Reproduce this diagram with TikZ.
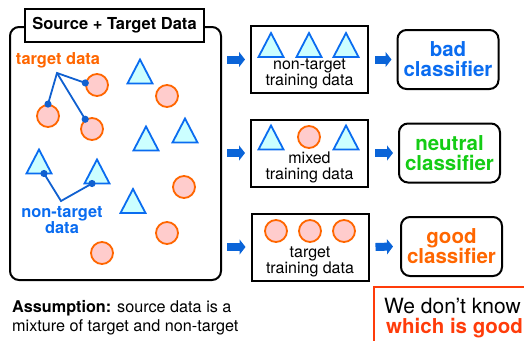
\documentclass[tikz,border=0pt]{standalone}
\usepackage{fontspec}
\setmainfont{TeX Gyre Heros}
\usetikzlibrary{arrows.meta,calc}
\definecolor{corange}{HTML}{FF6600}
\definecolor{cpink}{HTML}{FFCCCC}
\definecolor{ccyan}{HTML}{CCFFFF}
\definecolor{cblue}{HTML}{0A6CF0}
\definecolor{cdark}{HTML}{1060D0}
\definecolor{carrow}{HTML}{0A64D8}
\definecolor{cgreen}{HTML}{14CC14}
\definecolor{cred}{HTML}{FF3C0A}
\tikzset{
  trishape/.style={draw=cblue, fill=ccyan, line width=1.8pt},
  dotc/.style={circle, draw=corange, fill=cpink, line width=1.8pt, minimum size=22pt, inner sep=0pt},
  bigbox/.style={draw, line width=2pt, rounded corners=9pt, minimum width=211pt, minimum height=253pt, inner sep=0pt},
  titlebox/.style={draw, line width=2pt, fill=white, minimum width=179pt, minimum height=33pt, inner sep=0pt, font=\bfseries\fontsize{16.5pt}{18pt}\selectfont},
  trainbox/.style={draw, line width=2pt, minimum width=117pt, minimum height=67pt, inner sep=0pt},
  traintext/.style={align=center, inner sep=0pt, font=\fontsize{16pt}{16pt}\selectfont},
  clbox/.style={draw, line width=2pt, rounded corners=9pt, minimum width=101pt, minimum height=59pt, inner sep=0pt, align=center, font=\bfseries\fontsize{20.5pt}{20pt}\selectfont},
  blockarrow/.style={carrow, line width=8pt, -{Triangle[length=6pt,width=15pt]}},
  conn/.style={cdark, line width=1.8pt},
  labtext/.style={align=center, inner sep=0pt, font=\bfseries\fontsize{16.4pt}{16pt}\selectfont},
}
\newcommand\tri[3]{\coordinate (#1) at (#2,#3);
  \draw[trishape] ($(#1)+(-12.5,12)$) -- ($(#1)+(0,-12)$) -- ($(#1)+(12.5,12)$) -- cycle;}
\begin{document}
\begin{tikzpicture}[x=1pt,y=-1pt]
\useasboundingbox (0,0) rectangle (524,340);
\clip (0,0) rectangle (524,340);
% source box
\node[bigbox] (src) at (115.5,153.5) {};
\node[titlebox] (title) at (114.5,25.5) {Source + Target Data};
% shapes in source
\node[dotc] (c1) at (97,85) {};
\node[dotc] (c2) at (48,116) {};
\node[dotc] (c3) at (92,129) {};
\node[dotc] (c4) at (167,96) {};
\node[dotc] (c5) at (184,187) {};
\node[dotc] (c6) at (167,233) {};
\node[dotc] (c7) at (102,253) {};
\tri{m1}{140}{71.5}
\tri{m2}{185}{130.5}
\tri{m3}{146}{138.5}
\tri{nA}{39}{161.5}
\tri{nB}{97}{171.5}
\tri{m4}{133}{201}
% labels and connectors
\node[labtext, corange] (tgl) at (58,60) {target data};
\coordinate (tgj) at (57,73);
\draw[conn] (c1.170) -- (tgj) -- (c2.90);
\draw[conn] (tgj) -- (c3.125);
\fill[cdark] (c1.170) circle (3.6pt) (c2.90) circle (3.6pt) (c3.125) circle (3.6pt);
\node[labtext, cblue] (ntl) at (62,220) {non-target\\data};
\coordinate (ntj) at (61,201);
\coordinate (dA) at ($(nA)+(5,12)$);
\coordinate (dB) at ($(nB)+(-5,12)$);
\draw[conn] (dA) -- (ntj) -- (dB);
\fill[cdark] (dA) circle (3.6pt) (dB) circle (3.6pt);
% training boxes
\node[trainbox] (t1) at (309.5,59.5) {};
\node[trainbox] (t2) at (309.5,153) {};
\node[trainbox] (t3) at (310,247) {};
\tri{a1}{271}{45}
\tri{a2}{309}{45}
\tri{a3}{346}{45}
\tri{b1}{271}{137.5}
\node[dotc] (b2) at (309,137) {};
\tri{b3}{346}{137.5}
\node[dotc] (e1) at (276,231) {};
\node[dotc] (e2) at (310,231) {};
\node[dotc] (e3) at (344,231) {};
\node[traintext] (t1txt) at ($(t1.north)+(0,49)$) {non-target\\training data};
\node[traintext] (t2txt) at ($(t2.north)+(0,49)$) {mixed\\training data};
\node[traintext] (t3txt) at ($(t3.north)+(0,49)$) {target\\training data};
% classifiers
\node[clbox, text=cblue] (cl1) at (448,59.5) {bad\\classifier};
\node[clbox, text=cgreen] (cl2) at (449.5,153) {neutral\\classifier};
\node[clbox, text=corange] (cl3) at (451.5,246.5) {good\\classifier};
% arrows
\foreach \t in {t1,t2,t3}{
  \draw[blockarrow] ($(src.east|-\t.west)+(5,0)$) -- ($(\t.west)+(-5,0)$);
}
\draw[blockarrow] ($(t1.east)+(6,0)$) -- ($(cl1.west)+(-5,0)$);
\draw[blockarrow] ($(t2.east)+(6,0)$) -- ($(cl2.west)+(-5,0)$);
\draw[blockarrow] ($(t3.east)+(6,0)$) -- ($(cl3.west)+(-7,0)$);
% assumption
\node[anchor=base west, inner sep=0pt, font=\fontsize{16.2pt}{19pt}\selectfont] (as1) at (12,312) {\textbf{Assumption:} source data is a};
\node[anchor=base west, inner sep=0pt, font=\fontsize{16.2pt}{19pt}\selectfont] (as2) at (12,331) {mixture of target and non-target};
% red note
\draw[cred, line width=2pt] (374,287) rectangle (560,380);
\node[anchor=base west, inner sep=0pt, font=\fontsize{21pt}{20pt}\selectfont] (wdk) at (384,313) {We don’t know};
\node[anchor=base west, inner sep=0pt, text=cred, font=\bfseries\fontsize{20.5pt}{20pt}\selectfont] (wig) at (386,333) {which is good};
\end{tikzpicture}
\end{document}
